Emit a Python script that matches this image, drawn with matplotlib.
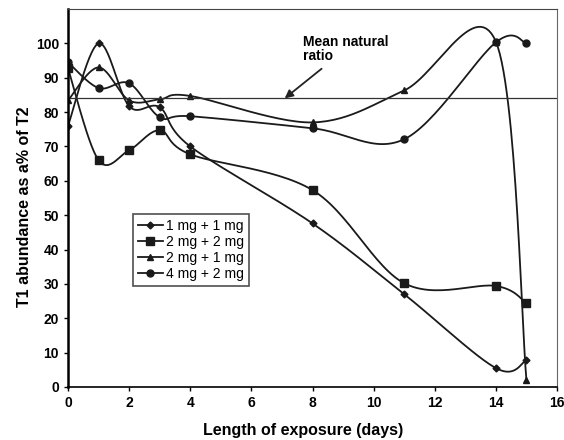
import numpy as np
import matplotlib.pyplot as plt

days = [0, 1, 2, 3, 4, 8, 11, 14, 15]
mg1_1 = [76, 100, 81.7, 81.4, 70, 47.6, 27, 5.5, 7.8]
mg2_2 = [92.7, 66, 68.9, 74.7, 67.7, 57.3, 30.2, 29.4, 24.4]
mg2_1 = [83.4, 93, 83.4, 83.7, 84.7, 77, 86.3, 100.5, 2]
mg4_2 = [94.5, 87, 88.4, 78.5, 78.8, 75.3, 72.1, 100.3, 100]
labels = ['1 mg + 1 mg', '2 mg + 2 mg', '2 mg + 1 mg', '4 mg + 2 mg']
markers = ['D', 's', '^', 'o']
msizes = [3.5, 5.5, 5, 5]
mean_ratio = 84


def smooth(x, y, n=30):
    # excel-like smoothed line: catmull-rom as cubic bezier segments
    p = np.column_stack([x, y]).astype(float)
    out = []
    for i in range(len(p) - 1):
        p0 = p[max(i - 1, 0)]
        p1 = p[i]
        p2 = p[i + 1]
        p3 = p[min(i + 2, len(p) - 1)]
        c1 = p1 + (p2 - p0) / 6.0
        c2 = p2 - (p3 - p1) / 6.0
        t = np.linspace(0, 1, n)[:, None]
        seg = ((1 - t) ** 3) * p1 + 3 * ((1 - t) ** 2) * t * c1 \
            + 3 * (1 - t) * t ** 2 * c2 + t ** 3 * p2
        out.append(seg if i == 0 else seg[1:])
    seg = np.vstack(out)
    return seg[:, 0], seg[:, 1]


plt.rcParams['font.family'] = ['Liberation Sans', 'DejaVu Sans']
plt.rcParams['font.weight'] = 'bold'

fig = plt.figure(figsize=(5.64, 4.40), dpi=100, facecolor='w')
ax = fig.add_axes([0.1206, 0.1205, 0.867, 0.859])

series = [mg1_1, mg2_2, mg2_1, mg4_2]
handles = []
for vals, lab, mk, ms in zip(series, labels, markers, msizes):
    sx, sy = smooth(days, vals)
    ax.plot(sx, sy, color='#1a1a1a', lw=1.3)
    ax.plot(days, vals, ls='none', marker=mk, ms=ms, color='#1a1a1a')
    h, = ax.plot([], [], color='#1a1a1a', lw=1.3, marker=mk, ms=ms, label=lab)
    handles.append(h)

ax.axhline(mean_ratio, xmin=0, xmax=1, color='#333333', lw=0.9)
ax.annotate('Mean natural\nratio', xy=(7.09, mean_ratio), xytext=(7.7, 102.5),
            fontsize=10, fontweight='bold', va='top', ha='left',
            linespacing=1.05,
            arrowprops=dict(arrowstyle='-|>', color='#222222', lw=1.3,
                            mutation_scale=12, shrinkA=3, shrinkB=0))

ax.set_xlim(0, 16)
ax.set_ylim(0, 110)
ax.set_xticks(range(0, 17, 2))
ax.set_yticks(range(0, 101, 10))
ax.tick_params(axis='both', labelsize=10, direction='out', length=3, width=1)
for lab in ax.get_xticklabels() + ax.get_yticklabels():
    lab.set_fontweight('bold')

ax.spines['left'].set_linewidth(1.8)
ax.spines['bottom'].set_linewidth(1.2)
ax.spines['top'].set_linewidth(0.8)
ax.spines['right'].set_linewidth(0.8)
ax.spines['top'].set_color('#444444')
ax.spines['right'].set_color('#666666')

ax.set_xlabel('Length of exposure (days)', fontsize=11.5, fontweight='bold')
ax.set_ylabel('T1 abundance as a% of T2', fontsize=11.5, fontweight='bold')
ax.xaxis.set_label_coords(0.48, -0.095)
ax.yaxis.set_label_coords(-0.074, 0.476)

leg = ax.legend(handles=handles, loc='lower left', bbox_to_anchor=(0.133, 0.267),
                fontsize=10, frameon=True, fancybox=False, handlelength=1.8,
                handletextpad=0.2, borderpad=0.35, labelspacing=0.15,
                borderaxespad=0)
leg.get_frame().set_edgecolor('#222222')
leg.get_frame().set_linewidth(1.2)
for t in leg.get_texts():
    t.set_fontweight('normal')

plt.savefig('out.png', dpi=100)
